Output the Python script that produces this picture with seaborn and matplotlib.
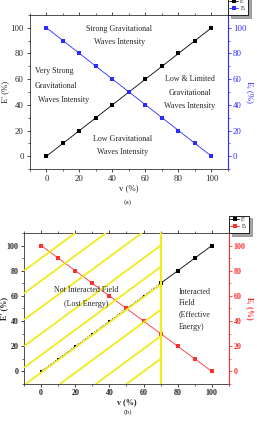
import matplotlib
matplotlib.use("Agg")
import matplotlib.pyplot as plt
from matplotlib.ticker import MultipleLocator
import seaborn as sns
import pandas as pd
import numpy as np

v = [0, 10, 20, 30, 40, 50, 60, 70, 80, 90, 100]
E_prime = [0, 10, 20, 30, 40, 50, 60, 70, 80, 90, 100]
E_i = [100, 90, 80, 70, 60, 50, 40, 30, 20, 10, 0]
boundary_v = 70
hatch_offsets = [90, 72, 51, 30, 13, -1, -21, -42, -60]

df = pd.DataFrame({"v": v, "Ep": E_prime, "Ei": E_i})

sns.set_style("ticks")
plt.rcParams["font.family"] = ["Liberation Serif", "DejaVu Serif"]
plt.rcParams["mathtext.fontset"] = "stix"

fig = plt.figure(figsize=(2.57, 4.22), dpi=100)
ax1 = fig.add_axes([0.1167, 0.5995, 0.7703, 0.365])
ax2 = fig.add_axes([0.0934, 0.090, 0.7976, 0.358])

FS = 6.3
TFS = 5.8
BLUE = "#2b2bff"
RED = "#ff3030"


def style_axes(ax, axr, color, weight="normal", fs=FS, lpad=1, tpad=2):
    for a in (ax, axr):
        a.set_xlim(-10, 110)
        a.set_ylim(-10, 110)
    ax.xaxis.set_major_locator(MultipleLocator(20))
    ax.xaxis.set_minor_locator(MultipleLocator(10))
    ax.yaxis.set_major_locator(MultipleLocator(20))
    ax.yaxis.set_minor_locator(MultipleLocator(10))
    axr.yaxis.set_major_locator(MultipleLocator(20))
    axr.yaxis.set_minor_locator(MultipleLocator(10))
    ax.tick_params(axis="both", which="major", labelsize=fs, length=2.5, width=0.6, pad=tpad,
                   top=True, direction="out")
    ax.tick_params(axis="both", which="minor", length=1.5, width=0.5, top=True)
    ax.tick_params(axis="x", which="both", top=True)
    axr.tick_params(axis="y", which="major", labelsize=fs, length=2.5, width=0.6, pad=1,
                    colors=color)
    axr.tick_params(axis="y", which="minor", length=1.5, width=0.5, colors=color)
    for lab in ax.get_xticklabels() + ax.get_yticklabels() + axr.get_yticklabels():
        lab.set_fontweight(weight)
    for s in ("left", "bottom", "top"):
        ax.spines[s].set_linewidth(0.6)
        ax.spines[s].set_color("#333333")
    ax.spines["right"].set_visible(False)
    for s in ("left", "bottom", "top"):
        axr.spines[s].set_visible(False)
    axr.spines["right"].set_visible(True)
    axr.spines["right"].set_color(color)
    axr.spines["right"].set_linewidth(0.8)
    ax.set_xlabel("v (%)", fontsize=fs, labelpad=1, fontweight=weight)
    ax.set_ylabel("E' (%)", fontsize=fs, labelpad=lpad, fontweight=weight)
    axr.set_ylabel("E$_{\\mathrm{i}}$ (%)", fontsize=fs, color=color, rotation=-90, labelpad=6,
                   fontweight=weight)


def make_legend(ax, axr):
    h1, l1 = ax.get_legend_handles_labels()
    h2, l2 = axr.get_legend_handles_labels()
    leg = axr.legend(h1 + h2, l1 + l2, loc="lower left", bbox_to_anchor=(1.0, 1.0),
                     borderaxespad=0, fontsize=4.3, frameon=True, shadow=True, fancybox=False,
                     handlelength=1.5, handletextpad=0.2, borderpad=0.25, labelspacing=0.05)
    leg.get_frame().set_edgecolor("black")
    leg.get_frame().set_linewidth(0.6)
    return leg


# ---------- panel (a) ----------
ax1r = ax1.twinx()
sns.lineplot(data=df, x="v", y="Ep", ax=ax1, color="black", marker="s", markersize=2.6,
             linewidth=0.6, markeredgewidth=0, label="E'", legend=False)
sns.lineplot(data=df, x="v", y="Ei", ax=ax1r, color=BLUE, marker="s", markersize=2.6,
             linewidth=0.6, markeredgewidth=0, label="E$_{\\mathrm{i}}$", legend=False)
style_axes(ax1, ax1r, BLUE)

ax1.text(44, 99, "Strong Gravitational", fontsize=TFS, ha="center", va="center")
ax1.text(44, 89, "Waves Intensity", fontsize=TFS, ha="center", va="center")
ax1.text(-7, 66, "Very Strong", fontsize=TFS, ha="left", va="center")
ax1.text(-7, 55, "Gravitational", fontsize=TFS, ha="left", va="center")
ax1.text(-5, 44, "Waves Intensity", fontsize=TFS, ha="left", va="center")
ax1.text(87, 60, "Low & Limited", fontsize=TFS, ha="center", va="center")
ax1.text(87, 49.5, "Gravitational", fontsize=TFS, ha="center", va="center")
ax1.text(87, 39, "Waves Intensity", fontsize=TFS, ha="center", va="center")
ax1.text(46, 13, "Low Gravitational", fontsize=TFS, ha="center", va="center")
ax1.text(46, 3.5, "Waves Intensity", fontsize=TFS, ha="center", va="center")

make_legend(ax1, ax1r)
fig.text(0.498, 1 - 202 / 422, "(a)", fontsize=TFS - 0.5, ha="center", va="center")

# ---------- panel (b) ----------
ax2r = ax2.twinx()
sub_in = df[df["v"] <= boundary_v]
sub_out = df[df["v"] >= boundary_v]
sns.lineplot(data=sub_in, x="v", y="Ep", ax=ax2, color="black", marker="s", markersize=2.0,
             linewidth=0.6, linestyle=":", markeredgewidth=0, legend=False)
sns.lineplot(data=sub_out, x="v", y="Ep", ax=ax2, color="black", marker="s", markersize=2.6,
             linewidth=0.6, markeredgewidth=0, label="E'", legend=False)
sns.lineplot(data=df, x="v", y="Ei", ax=ax2r, color=RED, marker="s", markersize=2.6,
             linewidth=0.6, markeredgewidth=0, label="E$_{\\mathrm{i}}$", legend=False)
style_axes(ax2, ax2r, RED, weight="bold", fs=5.8, lpad=0.5, tpad=1.2)
ax2.yaxis.set_label_coords(-0.075, 0.5)

# hatch lines (slope 1) left of the boundary
YEL = "#f2ea1a"
for c in hatch_offsets:
    x0 = max(-10, -10 - c)
    x1 = min(boundary_v, 110 - c)
    if x1 > x0:
        ax2r.plot([x0, x1], [x0 + c, x1 + c], color=YEL, linewidth=1.3, zorder=5,
                  solid_capstyle="butt")
ax2r.axvline(boundary_v, color=YEL, linewidth=1.6, zorder=5)

ax2r.text(26.5, 65, "Not Interacted Field", fontsize=TFS, ha="center", va="center", zorder=6)
ax2r.text(26.5, 53.5, "(Lost Energy)", fontsize=TFS, ha="center", va="center", zorder=6)
ax2r.text(80.5, 63, "Interacted", fontsize=TFS, ha="left", va="center")
ax2r.text(80.5, 54.4, "Field", fontsize=TFS, ha="left", va="center")
ax2r.text(80.5, 45.6, "(Effective", fontsize=TFS, ha="left", va="center")
ax2r.text(80.5, 35.4, "Energy)", fontsize=TFS, ha="left", va="center")

make_legend(ax2, ax2r)
fig.text(0.498, 1 - 412 / 422, "(b)", fontsize=TFS - 0.5, ha="center", va="center")

fig.savefig("out.png", dpi=100)
